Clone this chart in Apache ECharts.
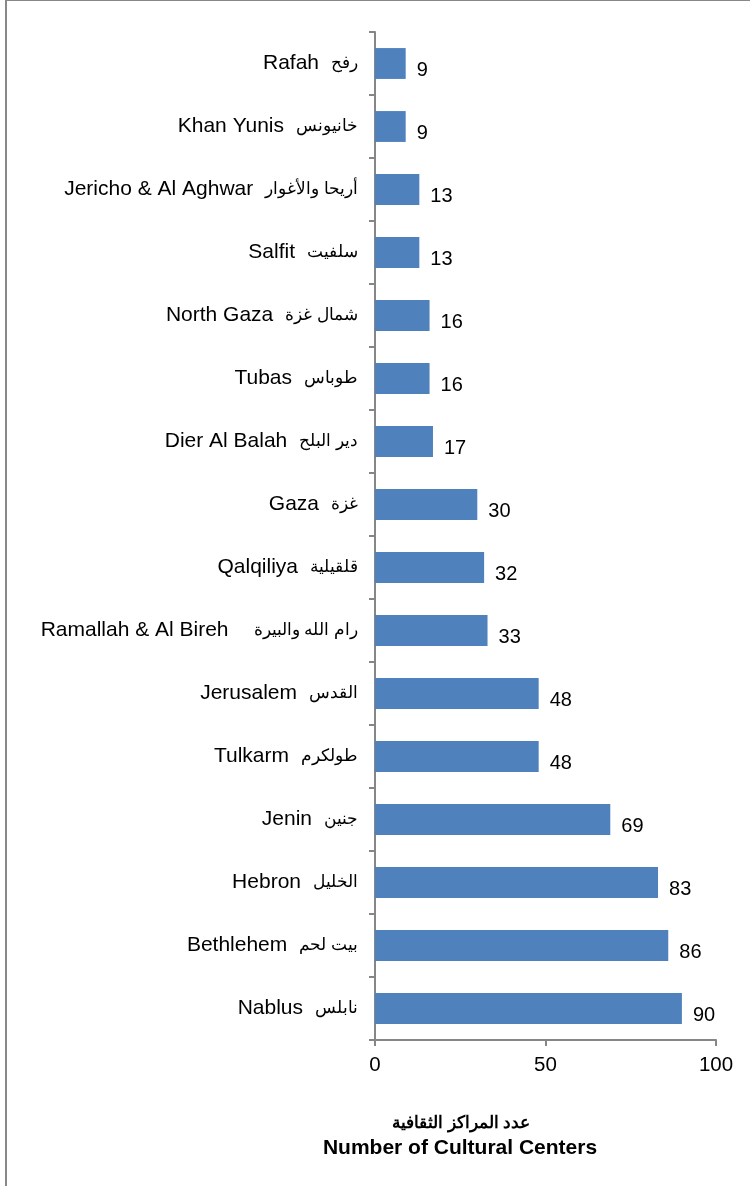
<!DOCTYPE html>
<html>
<head>
<meta charset="utf-8">
<script src="https://cdn.jsdelivr.net/npm/echarts@6/dist/echarts.min.js"></script>
<style>
html,body{margin:0;padding:0;background:#fff;}
#chart{width:750px;height:1186px;}
</style>
</head>
<body>
<div id="chart"></div>
<script>
var categoriesEn = ['Rafah','Khan Yunis','Jericho & Al Aghwar','Salfit','North Gaza','Tubas','Dier Al Balah','Gaza','Qalqiliya','Ramallah & Al Bireh','Jerusalem','Tulkarm','Jenin','Hebron','Bethlehem','Nablus'];
var categoriesAr = ['رفح','خانيونس','أريحا والأغوار','سلفيت','شمال غزة','طوباس','دير البلح','غزة','قلقيلية','رام الله والبيرة','القدس','طولكرم','جنين','الخليل','بيت لحم','نابلس'];
var values = [9,9,13,13,16,16,17,30,32,33,48,48,69,83,86,90];
var xTicks = [0,50,100];
var titleAr = 'عدد المراكز الثقافية';
var titleEn = 'Number of Cultural Centers';

var FONT = 'Arial, sans-serif';
var chart = echarts.init(document.getElementById('chart'), null, {renderer:'canvas'});
chart.setOption({
  animation:false,
  backgroundColor:'#ffffff',
  grid:{left:375, right:34, top:32, bottom:146, containLabel:false},
  xAxis:{
    type:'value', min:xTicks[0], max:xTicks[xTicks.length-1], interval:xTicks[1]-xTicks[0],
    axisLine:{show:true, lineStyle:{color:'#868686', width:2}},
    axisTick:{show:true, length:6, lineStyle:{color:'#868686', width:2}},
    splitLine:{show:false},
    axisLabel:{color:'#000', fontSize:20.5, fontFamily:FONT, margin:15}
  },
  yAxis:{
    type:'category', data:categoriesEn, inverse:true,
    axisLine:{show:true, lineStyle:{color:'#868686', width:2}},
    axisTick:{show:true, length:6, alignWithLabel:false, lineStyle:{color:'#868686', width:2}},
    axisLabel:{
      margin:17,
      formatter:function(v, i){
        var gap = (v === 'Ramallah & Al Bireh') ? 'gap2' : 'gap';
        return '{en|' + v + '}{' + gap + '|}{ar|' + categoriesAr[i] + '}';
      },
      rich:{
        en:{color:'#000', fontSize:21, fontFamily:FONT},
        gap:{width:12},
        gap2:{width:25},
        ar:{color:'#000', fontSize:17, fontFamily:FONT}
      }
    }
  },
  series:[{
    type:'bar', data:values, barWidth:'49%',
    itemStyle:{color:'#4F81BD'},
    label:{show:true, position:'right', distance:11, offset:[0,7], color:'#000', fontSize:20, fontFamily:FONT}
  }],
  graphic:[
    {type:'rect', shape:{x:6, y:0, width:900, height:1400}, style:{fill:'none', stroke:'#888', lineWidth:2}, silent:true},
    {type:'text', x:461, y:1123, style:{text:titleAr, font:'bold 17px Arial, sans-serif', fill:'#000', textAlign:'center', textVerticalAlign:'middle'}},
    {type:'text', x:460, y:1148, style:{text:titleEn, font:'bold 21px Arial, sans-serif', fill:'#000', textAlign:'center', textVerticalAlign:'middle'}}
  ]
});
</script>
</body>
</html>
